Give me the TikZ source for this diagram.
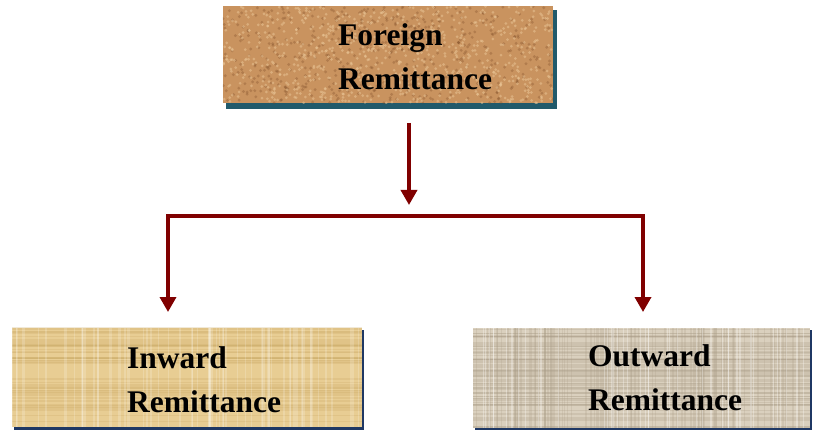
\documentclass[tikz,border=0pt]{standalone}
\usepackage{fontspec}
\setmainfont{Liberation Serif}
\usetikzlibrary{arrows.meta,calc}
\definecolor{arrowred}{HTML}{800000}
\definecolor{corkbase}{HTML}{C9935F}
\definecolor{corkdark}{HTML}{7A4A25}
\definecolor{corklight}{HTML}{EBC899}
\definecolor{papyrus}{HTML}{E8CD93}
\definecolor{papyrusdark}{HTML}{C9A964}
\definecolor{canvasbase}{HTML}{DAD0BE}
\definecolor{canvasdark}{HTML}{A99C86}
\definecolor{shadowteal}{HTML}{215A6B}
\definecolor{shadownavy}{HTML}{1F3864}
\tikzset{
  box/.style={rectangle, draw=none, inner sep=0pt},
  lbl/.style={font=\fontsize{31.5}{44}\selectfont\bfseries, align=left, inner sep=0pt, text=black},
  conn/.style={draw=arrowred, line width=3.5pt, line join=miter, -{Triangle[width=16pt,length=15pt]}},
}
\begin{document}
\begin{tikzpicture}[x=1pt,y=-1pt]
\useasboundingbox (0,0) rectangle (816,430);
% shadows
\fill[shadowteal] (226,10) rectangle (557,109);
\fill[shadownavy] (14,330) rectangle (364,430);
\fill[shadownavy] (475,330) rectangle (812,430);
% boxes
\node[box, fill=corkbase, minimum width=330pt, minimum height=97pt] (fr) at (388,55) {};
\node[box, fill=papyrus, minimum width=350pt, minimum height=99pt] (ib) at (187,377.5) {};
\node[box, fill=canvasbase, minimum width=337pt, minimum height=100pt] (ob) at (641.5,378) {};
% cork texture
\begin{scope}
\clip (fr.south west) rectangle (fr.north east);
\pgfmathsetseed{7}
\foreach \i in {1,...,500}{
  \pgfmathsetmacro\px{223+330*rnd}
  \pgfmathsetmacro\py{6+97*rnd}
  \fill[corkdark, opacity=0.3] (\px,\py) circle (1.6pt);
}
\foreach \i in {1,...,800}{
  \pgfmathsetmacro\px{223+330*rnd}
  \pgfmathsetmacro\py{6+97*rnd}
  \fill[corklight, opacity=0.5] (\px,\py) circle (1.5pt);
}
\end{scope}
% papyrus texture
\begin{scope}
\clip (ib.south west) rectangle (ib.north east);
\pgfmathsetseed{11}
\foreach \i in {1,...,45}{
  \pgfmathsetmacro\py{328+99*rnd}
  \pgfmathsetmacro\lw{0.6+2*rnd}
  \draw[papyrusdark, opacity=0.25, line width=\lw pt] (12,\py) -- (362,\py);
}
\foreach \i in {1,...,70}{
  \pgfmathsetmacro\px{12+350*rnd}
  \pgfmathsetmacro\lw{0.6+2*rnd}
  \draw[white, opacity=0.18, line width=\lw pt] (\px,328) -- (\px,427);
}
\end{scope}
% canvas texture
\begin{scope}
\clip (ob.south west) rectangle (ob.north east);
\pgfmathsetseed{5}
\foreach \i in {1,...,60}{
  \pgfmathsetmacro\py{328+100*rnd}
  \pgfmathsetmacro\lw{0.6+1.5*rnd}
  \draw[canvasdark, opacity=0.25, line width=\lw pt] (473,\py) -- (810,\py);
}
\foreach \i in {1,...,90}{
  \pgfmathsetmacro\px{473+337*rnd}
  \pgfmathsetmacro\lw{0.6+1.5*rnd}
  \draw[canvasdark, opacity=0.22, line width=\lw pt] (\px,328) -- (\px,428);
}
\foreach \i in {1,...,50}{
  \pgfmathsetmacro\px{473+337*rnd}
  \draw[white, opacity=0.3, line width=1pt] (\px,328) -- (\px,428);
}
\end{scope}
% labels (base anchor = baseline of last line)
\node[lbl, anchor=base west] (frt) at (338,90) {Foreign\\Remittance};
\node[lbl, anchor=base west] (ibt) at (127,412) {Inward\\Remittance};
\node[lbl, anchor=base west] (obt) at (588,410) {Outward\\Remittance};
% connectors
\coordinate (a1) at (409,123);
\coordinate (a2) at (409,205);
\coordinate (hl) at (168,216);
\coordinate (hr) at (643,216);
\coordinate (tl) at (168,312);
\coordinate (tr) at (643,312);
\draw[conn] (a1) -- (a2);
\draw[conn] (hr) -- (hl) -- (tl);
\draw[conn] (hl) -- (hr) -- (tr);
\end{tikzpicture}
\end{document}
